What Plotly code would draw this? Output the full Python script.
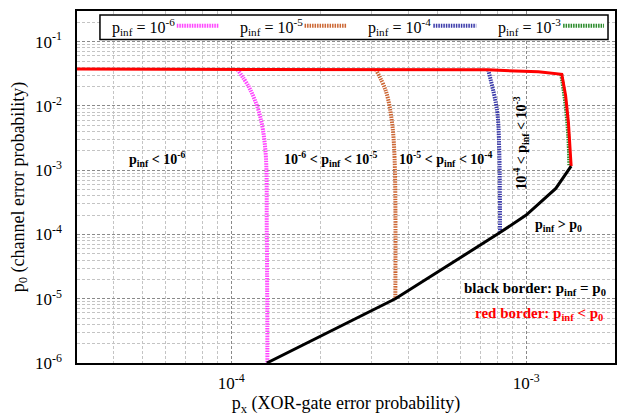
import plotly.graph_objects as go
import numpy as np

# ---- data ----
red_x = [3e-5, 4e-4, 7.4e-4, 1.1e-3, 1.32e-3, 1.36e-3, 1.39e-3, 1.42e-3]
red_y = [0.0375, 0.0372, 0.0364, 0.034, 0.031, 0.0145, 5.6e-3, 1.16e-3]

black_x = [1.32e-4, 3.6e-4, 8.1e-4, 1.0e-3, 1.26e-3, 1.42e-3]
black_y = [1e-6, 1e-5, 1.05e-4, 2.0e-4, 5.2e-4, 1.16e-3]

m6_x = [1.048e-4, 1.151e-4, 1.245e-4, 1.305e-4, 1.32e-4, 1.326e-4]
m6_y = [0.037, 0.0192, 7.7e-3, 2.1e-3, 1e-4, 1e-6]

m5_x = [3.09e-4, 3.34e-4, 3.5e-4, 3.58e-4, 3.6e-4]
m5_y = [0.037, 0.0173, 6e-3, 1.48e-3, 1.0e-5]

m4_x = [7.43e-4, 7.96e-4, 8.1e-4, 8.15e-4]
m4_y = [0.0365, 8.6e-3, 2.1e-3, 1.05e-4]

m3_x = [1.315e-3, 1.36e-3, 1.39e-3, 1.40e-3]
m3_y = [0.031, 0.0102, 3.2e-3, 1.2e-3]

legend_labels = ["p<sub>inf</sub> = 10<sup>-6</sup>", "p<sub>inf</sub> = 10<sup>-5</sup>",
                 "p<sub>inf</sub> = 10<sup>-4</sup>", "p<sub>inf</sub> = 10<sup>-3</sup>"]
colors = ["#ff44ff", "#cc6633", "#3a3aaa", "#2a8a2a"]

x_tickvals = [1e-4, 1e-3]
x_ticktext = ["10<sup>-4</sup>", "10<sup>-3</sup>"]
y_tickvals = [1e-6, 1e-5, 1e-4, 1e-3, 1e-2, 1e-1]
y_ticktext = ["10<sup>-6</sup>", "10<sup>-5</sup>", "10<sup>-4</sup>",
              "10<sup>-3</sup>", "10<sup>-2</sup>", "10<sup>-1</sup>"]

FONT = "Liberation Serif"

fig = go.Figure()
series = [(m6_x, m6_y), (m5_x, m5_y), (m4_x, m4_y), (m3_x, m3_y)]
for (xs, ys), c, lab in zip(series, colors, legend_labels):
    fig.add_trace(go.Scatter(x=xs, y=ys, mode="lines", name=lab, showlegend=False,
                             line=dict(color=c, width=4, dash="1.5px,1px", shape="spline")))
fig.add_trace(go.Scatter(x=red_x, y=red_y, mode="lines", showlegend=False,
                         line=dict(color="#ff0000", width=3)))
fig.add_trace(go.Scatter(x=black_x, y=black_y, mode="lines", showlegend=False,
                         line=dict(color="#000000", width=3)))

minor_x = [m * 10.0**e for e in (-5, -4, -3) for m in range(2, 10)]
minor_y = [m * 10.0**e for e in (-6, -5, -4, -3, -2, -1) for m in range(2, 10)]

fig.update_xaxes(type="log", range=[np.log10(3e-5), np.log10(2e-3)],
                 tickmode="array", tickvals=x_tickvals, ticktext=x_ticktext,
                 showgrid=True, gridcolor="#8a8a8a", griddash="3px,2px", gridwidth=1,
                 minor=dict(tickvals=minor_x, showgrid=True, gridcolor="#c4c4c4",
                            griddash="3px,2px", gridwidth=1),
                 showline=True, mirror=True, linecolor="black", linewidth=1.5,
                 ticks="", zeroline=False, ticklabelstandoff=4,
                 tickfont=dict(family=FONT, size=17, color="black"),
                 title=dict(text="p<sub>x</sub> (XOR-gate error probability)",
                            font=dict(family=FONT, size=18, color="black"), standoff=2))
fig.update_yaxes(type="log", range=[-6, np.log10(0.3)],
                 tickmode="array", tickvals=y_tickvals, ticktext=y_ticktext,
                 showgrid=True, gridcolor="#8a8a8a", griddash="3px,2px", gridwidth=1,
                 minor=dict(tickvals=minor_y, showgrid=True, gridcolor="#c4c4c4",
                            griddash="3px,2px", gridwidth=1),
                 showline=True, mirror=True, linecolor="black", linewidth=1.5,
                 ticks="", zeroline=False, ticklabelstandoff=10,
                 tickfont=dict(family=FONT, size=17, color="black"),
                 title=dict(text="p<sub>0</sub> (channel error probability)",
                            font=dict(family=FONT, size=18, color="black"), standoff=6))

# region labels (data coords, log10 values)
notes = [
    ("<b>p<sub>inf</sub> &lt; 10<sup>-6</sup></b>", -4.252, -2.83, 0, "black", 14),
    ("<b>10<sup>-6</sup> &lt; p<sub>inf</sub> &lt; 10<sup>-5</sup></b>", -3.663, -2.83, 0, "black", 14),
    ("<b>10<sup>-5</sup> &lt; p<sub>inf</sub> &lt; 10<sup>-4</sup></b>", -3.272, -2.83, 0, "black", 14),
    ("<b>10<sup>-4</sup> &lt; p<sub>inf</sub> &lt; 10<sup>-3</sup></b>", -3.020, -2.57, -90, "black", 14),
    ("<b>p<sub>inf</sub> &gt; p<sub>0</sub></b>", -2.891, -3.866, 0, "black", 14),
    ("<b>black border: p<sub>inf</sub> = p<sub>0</sub></b>", -2.969, -4.841, 0, "black", 15),
    ("<b>red border: p<sub>inf</sub> &lt; p<sub>0</sub></b>", -2.956, -5.238, 0, "#ff0000", 15),
]
for txt, xl, yl, ang, col, sz in notes:
    fig.add_annotation(text=txt, x=xl, y=yl, xref="x", yref="y", showarrow=False,
                       textangle=ang, font=dict(family=FONT, size=sz, color=col))

# manual legend (text left, sample right), paper coords
def px2paper_x(p):
    return (p - 77) / 539.0

def px2paper_y(p):
    return (368 - p) / 359.0

fig.add_shape(type="rect", xref="paper", yref="paper",
              x0=px2paper_x(100), x1=px2paper_x(609), y0=px2paper_y(38), y1=px2paper_y(13),
              line=dict(color="black", width=1.5), fillcolor="white", layer="above")
text_x = [110, 238, 367, 497]
samp_x = [(177, 219), (305, 347), (434, 477), (564, 605)]
for lab, c, tx, (s0, s1) in zip(legend_labels, colors, text_x, samp_x):
    fig.add_annotation(text=lab, x=px2paper_x(tx), y=px2paper_y(25), xref="paper", yref="paper",
                       xanchor="left", yanchor="middle", showarrow=False,
                       font=dict(family=FONT, size=16, color="black"))
    fig.add_shape(type="line", xref="paper", yref="paper",
                  x0=px2paper_x(s0), x1=px2paper_x(s1), y0=px2paper_y(24), y1=px2paper_y(24),
                  line=dict(color=c, width=4, dash="1.5px,1px"), layer="above")

fig.update_layout(width=626, height=417, margin=dict(l=77, r=10, t=9, b=49),
                  plot_bgcolor="white", paper_bgcolor="white",
                  font=dict(family=FONT, color="black"))

fig.write_html("out.html")
